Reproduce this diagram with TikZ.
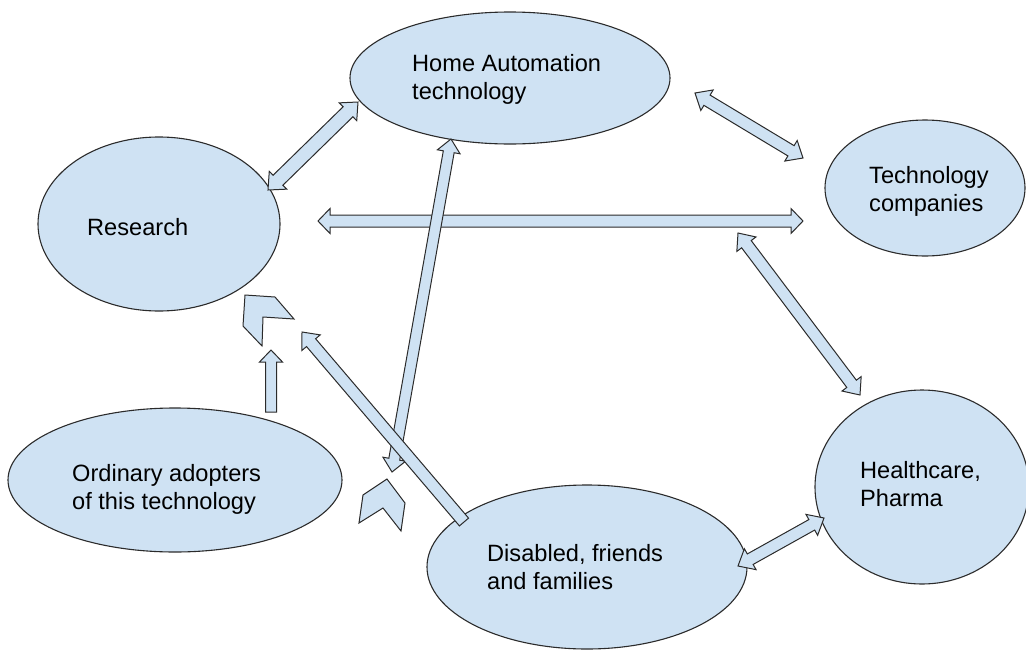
\documentclass[tikz,border=0pt]{standalone}
\usepackage{fontspec}
\setmainfont{Liberation Sans}
\usetikzlibrary{calc,shapes.geometric,math}

\definecolor{bubble}{HTML}{CFE2F3}
\definecolor{rim}{HTML}{2B2B2B}

\tikzset{
  bubble/.style={ellipse, draw=rim, fill=bubble, line width=1.1pt, inner sep=0pt},
  blocktip/.style={draw=rim, fill=bubble, line width=1pt, line join=miter},
  lbl/.style={anchor=base west, align=left, inner sep=0pt,
    font=\fontsize{23.6}{27.5}\selectfont}
}

% two headed block arrow: from, to, shaft half width, head half width, head length
\newcommand{\twoway}[5]{%
  \draw[blocktip] (#1)
    -- ($(#1)!#5!(#2)!#4!90:(#2)$)
    -- ($(#1)!#5!(#2)!#3!90:(#2)$)
    -- ($(#2)!#5!(#1)!#3!-90:(#1)$)
    -- ($(#2)!#5!(#1)!#4!-90:(#1)$)
    -- (#2)
    -- ($(#2)!#5!(#1)!#4!90:(#1)$)
    -- ($(#2)!#5!(#1)!#3!90:(#1)$)
    -- ($(#1)!#5!(#2)!#3!-90:(#2)$)
    -- ($(#1)!#5!(#2)!#4!-90:(#2)$)
    -- cycle;}
% one headed block arrow, flat tail at the first point
\newcommand{\oneway}[5]{%
  \draw[blocktip] ($(#1)!#3!90:(#2)$)
    -- ($(#2)!#5!(#1)!#3!-90:(#1)$)
    -- ($(#2)!#5!(#1)!#4!-90:(#1)$)
    -- (#2)
    -- ($(#2)!#5!(#1)!#4!90:(#1)$)
    -- ($(#2)!#5!(#1)!#3!90:(#1)$)
    -- ($(#1)!#3!-90:(#2)$)
    -- cycle;}

\begin{document}
\begin{tikzpicture}[x=1pt,y=-1pt]
  \useasboundingbox (0,0) rectangle (1026,651);

  % the six groups
  \node[bubble, minimum width=320, minimum height=132] (home) at (510,78) {};
  \node[bubble, minimum width=242, minimum height=174] (research) at (159,224) {};
  \node[bubble, minimum width=200, minimum height=136] (techco) at (925,188) {};
  \node[bubble, minimum width=334, minimum height=144] (adopters) at (175,480) {};
  \node[bubble, minimum width=214, minimum height=194] (health) at (922,487) {};
  \node[bubble, minimum width=320, minimum height=164] (disabled) at (587,567) {};

  % labels sit on the baseline of their last line
  \node[lbl] (homeT) at (412,99) {Home Automation\\technology};
  \node[lbl] (researchT) at (87,235) {Research};
  \node[lbl] (techcoT) at (869,211) {Technology\\companies};
  \node[lbl] (adoptersT) at (72,509) {Ordinary adopters\\of this technology};
  \node[lbl] (healthT) at (860,506) {Healthcare,\\Pharma};
  \node[lbl] (disabledT) at (487,589) {Disabled, friends\\and families};

  % arrow ends
  \coordinate (rh1) at (268,190);  \coordinate (rh2) at (358,102);
  \coordinate (ht1) at (695,93);   \coordinate (ht2) at (803,158);
  \coordinate (rt1) at (318,221);  \coordinate (rt2) at (803,221);
  \coordinate (th1) at (738,233);  \coordinate (th2) at (860,395);
  \coordinate (hd1) at (451,139);  \coordinate (hd2) at (392,472);
  \coordinate (dr1) at (464,522);  \coordinate (dr2) at (302,332);
  \coordinate (ar1) at (271,412);  \coordinate (ar2) at (271,350);
  \coordinate (dh1) at (738,566);  \coordinate (dh2) at (824,518);

  \twoway{rh1}{rh2}{7pt}{12.5pt}{14pt}
  \twoway{ht1}{ht2}{6pt}{12pt}{14pt}
  \twoway{rt1}{rt2}{6pt}{12.5pt}{12pt}
  \twoway{th1}{th2}{6pt}{12pt}{14pt}
  \twoway{hd1}{hd2}{5.5pt}{11.5pt}{13pt}
  \oneway{dr1}{dr2}{6pt}{12pt}{14pt}
  \oneway{ar1}{ar2}{5.5pt}{11.5pt}{12pt}
  \twoway{dh1}{dh2}{6pt}{12pt}{14pt}

  % loose arrow heads
  \draw[blocktip] (245,295) -- (275,297) -- (294,319) -- (263,317)
    -- (262,346) -- (243,326) -- cycle;
  \draw[blocktip] (363,495) -- (387,479) -- (405,503) -- (401,531)
    -- (383,508) -- (359,523) -- cycle;
\end{tikzpicture}
\end{document}
